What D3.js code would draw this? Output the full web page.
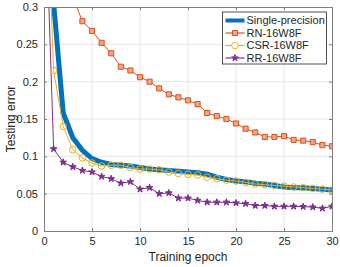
<!DOCTYPE html>
<html>
<head>
<meta charset="utf-8">
<script src="https://cdn.jsdelivr.net/npm/d3@7"></script>
<style>
  body { margin: 0; background: #fff; }
  svg { font-family: "Liberation Sans", Arial, sans-serif; }
</style>
</head>
<body>
<div class="graphic"></div>
<script>
var epochs = d3.range(0, 31);
var single = [0.6, 0.305, 0.158, 0.125, 0.108, 0.097, 0.092, 0.089, 0.088, 0.087, 0.085,
  0.083, 0.082, 0.081, 0.080, 0.079, 0.078, 0.076, 0.072, 0.069, 0.067,
  0.066, 0.064, 0.063, 0.061, 0.059, 0.058, 0.058, 0.057, 0.056, 0.055];
var rn = [0.55, 0.45, 0.36, 0.313, 0.281, 0.268, 0.252, 0.238, 0.220, 0.215, 0.206,
  0.200, 0.191, 0.183, 0.179, 0.175, 0.170, 0.158, 0.154, 0.150, 0.144,
  0.137, 0.132, 0.126, 0.126, 0.127, 0.122, 0.121, 0.119, 0.115, 0.1135];
var csr = [0.55, 0.215, 0.140, 0.109, 0.098, 0.091, 0.087, 0.088, 0.088, 0.085, 0.083,
  0.083, 0.082, 0.079, 0.077, 0.076, 0.075, 0.072, 0.070, 0.068, 0.067,
  0.065, 0.063, 0.062, 0.061, 0.060, 0.059, 0.058, 0.057, 0.056, 0.055];
var rr = [0.5, 0.110, 0.092, 0.086, 0.081, 0.079, 0.073, 0.070, 0.064, 0.066, 0.056,
  0.058, 0.050, 0.051, 0.044, 0.044, 0.041, 0.0385, 0.0385, 0.0385, 0.0375,
  0.0366, 0.034, 0.034, 0.033, 0.033, 0.033, 0.0326, 0.032, 0.0304, 0.033];
var xTicks = [0, 5, 10, 15, 20, 25, 30];
var yTicks = [0, 0.05, 0.1, 0.15, 0.2, 0.25, 0.3];
var seriesNames = ["Single-precision", "RN-16W8F", "CSR-16W8F", "RR-16W8F"];

var width = 340, height = 267;
var margin = {top: 7, right: 8, bottom: 36, left: 44};
var x0 = margin.left, x1 = width - margin.right, y0 = height - margin.bottom, y1 = margin.top;

var svg = d3.select(".graphic").append("svg")
  .attr("width", width).attr("height", height);

var x = d3.scaleLinear().domain([0, 30]).range([x0, x1]);
var y = d3.scaleLinear().domain([0, 0.3]).range([y0, y1]);

svg.append("rect").attr("x", x0).attr("y", y1).attr("width", x1 - x0).attr("height", y0 - y1).attr("fill", "#fff");

// grid
svg.append("g").selectAll("line").data(xTicks.slice(1, -1)).join("line")
  .attr("x1", d => x(d)).attr("x2", d => x(d)).attr("y1", y0).attr("y2", y1)
  .attr("stroke", "#e6e6e6").attr("stroke-width", 1);
svg.append("g").selectAll("line").data(yTicks.slice(1, -1)).join("line")
  .attr("y1", d => y(d)).attr("y2", d => y(d)).attr("x1", x0).attr("x2", x1)
  .attr("stroke", "#e6e6e6").attr("stroke-width", 1);

svg.append("clipPath").attr("id", "clip").append("rect")
  .attr("x", x0).attr("y", y1).attr("width", x1 - x0).attr("height", y0 - y1);

var plot = svg.append("g").attr("clip-path", "url(#clip)");
var line = d3.line().x((d, i) => x(epochs[i])).y(d => y(d));

var colors = ["#0072BD", "#D95319", "#EDB120", "#7E2F8E"];

plot.append("path").datum(rn).attr("d", line).attr("fill", "none").attr("stroke", colors[1]).attr("stroke-width", 1);
plot.append("path").datum(rr).attr("d", line).attr("fill", "none").attr("stroke", colors[3]).attr("stroke-width", 1);
plot.append("path").datum(single).attr("d", line).attr("fill", "none").attr("stroke", colors[0]).attr("stroke-width", 5);
plot.append("path").datum(csr).attr("d", line).attr("fill", "none").attr("stroke", colors[2]).attr("stroke-width", 1);

var sq = d3.symbol().type(d3.symbolSquare).size(26);
var star = d3.symbol().type(d3.symbolStar).size(14);

// markers from epoch 1 on
plot.append("g").selectAll("path").data(rn.slice(1)).join("path")
  .attr("transform", (d, i) => "translate(" + x(epochs[i + 1]) + "," + y(d) + ")")
  .attr("d", sq).attr("fill", "#f2a58a").attr("stroke", colors[1]).attr("stroke-width", 1);
plot.append("g").selectAll("path").data(rr.slice(1)).join("path")
  .attr("transform", (d, i) => "translate(" + x(epochs[i + 1]) + "," + y(d) + ")")
  .attr("d", star).attr("fill", colors[3]).attr("stroke", colors[3]).attr("stroke-width", 1);
plot.append("g").selectAll("circle").data(csr.slice(1)).join("circle")
  .attr("cx", (d, i) => x(epochs[i + 1])).attr("cy", d => y(d)).attr("r", 3.3)
  .attr("fill", "none").attr("stroke", colors[2]).attr("stroke-width", 1);

// axes (box with inward ticks)
var axCol = "#262626";
var xAxis = d3.axisBottom(x).tickValues(xTicks).tickSize(-3).tickPadding(6).tickFormat(d3.format("d"));
var yAxis = d3.axisLeft(y).tickValues(yTicks).tickSize(-3).tickPadding(6).tickFormat(d => d === 0 ? "0" : String(+d.toFixed(2)));

function styleAxis(g) {
  g.select(".domain").attr("stroke", "#808080");
  g.selectAll(".tick line").attr("stroke", "#808080");
  g.selectAll(".tick text").attr("fill", axCol).style("font-size", "11px").style("font-family", "Liberation Sans, Arial, sans-serif");
}
svg.append("g").attr("transform", "translate(0," + y0 + ")").call(xAxis).call(styleAxis);
svg.append("g").attr("transform", "translate(" + x0 + ",0)").call(yAxis).call(styleAxis);
svg.append("g").attr("transform", "translate(0," + y1 + ")")
  .call(d3.axisTop(x).tickValues(xTicks).tickSize(-3).tickFormat("")).call(styleAxis);
svg.append("g").attr("transform", "translate(" + x1 + ",0)")
  .call(d3.axisRight(y).tickValues(yTicks).tickSize(-3).tickFormat("")).call(styleAxis);

svg.append("text").attr("x", (x0 + x1) / 2).attr("y", 261).attr("text-anchor", "middle")
  .attr("fill", axCol).style("font-size", "12px").text("Training epoch");
svg.append("text").attr("transform", "translate(15," + ((y0 + y1) / 2) + ") rotate(-90)")
  .attr("text-anchor", "middle").attr("fill", axCol).style("font-size", "12px").text("Testing error");

// legend
var leg = svg.append("g");
leg.append("rect").attr("x", 222.5).attr("y", 12).attr("width", 104).attr("height", 52)
  .attr("fill", "#fff").attr("stroke", axCol).attr("stroke-width", 0.8);
var rowY = d3.scalePoint().domain(seriesNames).range([20.5, 58]);
var rows = leg.selectAll("g.row").data(seriesNames).join("g").attr("class", "row")
  .attr("transform", d => "translate(0," + rowY(d) + ")");
rows.append("line").attr("x1", 225.5).attr("x2", 244.5)
  .attr("stroke", (d, i) => colors[i]).attr("stroke-width", (d, i) => i === 0 ? 4 : 1.2);
rows.append("text").attr("x", 246.5).attr("dy", "0.36em").attr("fill", axCol)
  .style("font-size", "11px").text(d => d);
var mx = 235;
leg.append("path").attr("transform", "translate(" + mx + "," + rowY(seriesNames[1]) + ")")
  .attr("d", sq).attr("fill", "#f2a58a").attr("stroke", colors[1]);
leg.append("circle").attr("cx", mx).attr("cy", rowY(seriesNames[2])).attr("r", 3.3)
  .attr("fill", "#fff").attr("stroke", colors[2]);
leg.append("path").attr("transform", "translate(" + mx + "," + rowY(seriesNames[3]) + ")")
  .attr("d", star).attr("fill", colors[3]).attr("stroke", colors[3]);
</script>
</body>
</html>
